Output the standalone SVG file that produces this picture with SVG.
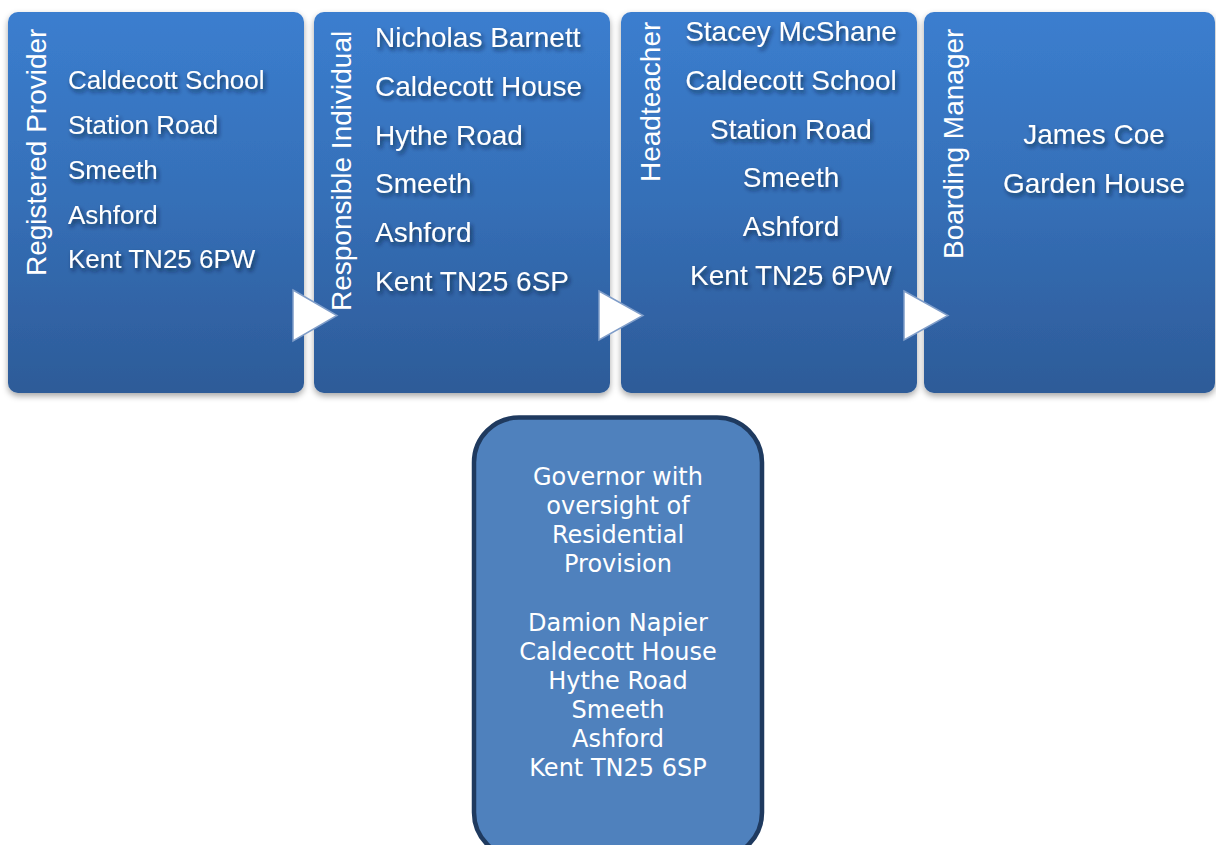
<svg xmlns="http://www.w3.org/2000/svg" width="1216" height="845" viewBox="0 0 1216 845">
<defs>
<linearGradient id="boxGrad" x1="0" y1="0" x2="0" y2="1">
<stop offset="0" stop-color="#3b7ecf"/>
<stop offset="0.5" stop-color="#356fb7"/>
<stop offset="1" stop-color="#2d5b98"/>
</linearGradient>
<filter id="boxShadow" x="-5%" y="-5%" width="110%" height="115%">
<feDropShadow dx="0" dy="3" stdDeviation="3" flood-color="#000" flood-opacity="0.35"/>
</filter>
<filter id="textShadow" x="-10%" y="-30%" width="120%" height="170%">
<feDropShadow dx="2" dy="3" stdDeviation="2" flood-color="#0a1a33" flood-opacity="0.7"/>
</filter>
<style>
.box{fill:url(#boxGrad);filter:url(#boxShadow);}
.vlabel{font-family:"Liberation Sans",Arial,sans-serif;font-size:28px;fill:#ffffff;}
.body{font-family:"Liberation Sans",Arial,sans-serif;font-size:28px;fill:#ffffff;filter:url(#textShadow);}
.small{font-size:26px;}
.mid{text-anchor:middle;}
.arrow{fill:#ffffff;stroke:#7f9dc9;stroke-width:1.5;stroke-linejoin:miter;}
.gov{fill:#4f81bd;stroke:#1f3a5f;stroke-width:4.5;}
.govtext{font-family:"DejaVu Sans",Verdana,sans-serif;font-size:24px;fill:#ffffff;text-anchor:middle;}
</style>
</defs>
<rect width="1216" height="845" fill="#ffffff"/>

<g id="node-registered-provider">
<rect class="box" x="8" y="12" width="296" height="381" rx="10" ry="10"/>
<text class="vlabel" transform="translate(45.5,276) rotate(-90)">Registered Provider</text>
<text class="body small" x="68" y="89">Caldecott School</text>
<text class="body small" x="68" y="134">Station Road</text>
<text class="body small" x="68" y="179">Smeeth</text>
<text class="body small" x="68" y="224">Ashford</text>
<text class="body small" x="68" y="268">Kent TN25 6PW</text>
</g>

<g id="node-responsible-individual">
<rect class="box" x="314" y="12" width="296" height="381" rx="10" ry="10"/>
<text class="vlabel" transform="translate(351,311) rotate(-90)">Responsible Individual</text>
<text class="body" x="375" y="47">Nicholas Barnett</text>
<text class="body" x="375" y="96">Caldecott House</text>
<text class="body" x="375" y="145">Hythe Road</text>
<text class="body" x="375" y="193">Smeeth</text>
<text class="body" x="375" y="242">Ashford</text>
<text class="body" x="375" y="291">Kent TN25 6SP</text>
</g>

<g id="node-headteacher">
<rect class="box" x="621" y="12" width="296" height="381" rx="10" ry="10"/>
<text class="vlabel" transform="translate(660,182) rotate(-90)">Headteacher</text>
<text class="body mid" x="791" y="41">Stacey McShane</text>
<text class="body mid" x="791" y="90">Caldecott School</text>
<text class="body mid" x="791" y="139">Station Road</text>
<text class="body mid" x="791" y="187">Smeeth</text>
<text class="body mid" x="791" y="236">Ashford</text>
<text class="body mid" x="791" y="285">Kent TN25 6PW</text>
</g>

<g id="node-boarding-manager">
<rect class="box" x="924" y="12" width="291" height="381" rx="10" ry="10"/>
<text class="vlabel" transform="translate(963,259) rotate(-90)">Boarding Manager</text>
<text class="body mid" x="1094" y="144">James Coe</text>
<text class="body mid" x="1094" y="193">Garden House</text>
</g>

<g id="connectors">
<polygon class="arrow" points="293,290 337,315.5 293,341"/>
<polygon class="arrow" points="599,291 643,315.5 599,340"/>
<polygon class="arrow" points="904,291 948,315.5 904,340"/>
</g>

<g id="node-governor">
<rect class="gov" x="474" y="417.5" width="288" height="440" rx="45" ry="45"/>
<text class="govtext" x="618" y="485">Governor with</text>
<text class="govtext" x="618" y="514">oversight of</text>
<text class="govtext" x="618" y="543">Residential</text>
<text class="govtext" x="618" y="572">Provision</text>
<text class="govtext" x="618" y="631">Damion Napier</text>
<text class="govtext" x="618" y="660">Caldecott House</text>
<text class="govtext" x="618" y="689">Hythe Road</text>
<text class="govtext" x="618" y="718">Smeeth</text>
<text class="govtext" x="618" y="747">Ashford</text>
<text class="govtext" x="618" y="776">Kent TN25 6SP</text>
</g>
</svg>
